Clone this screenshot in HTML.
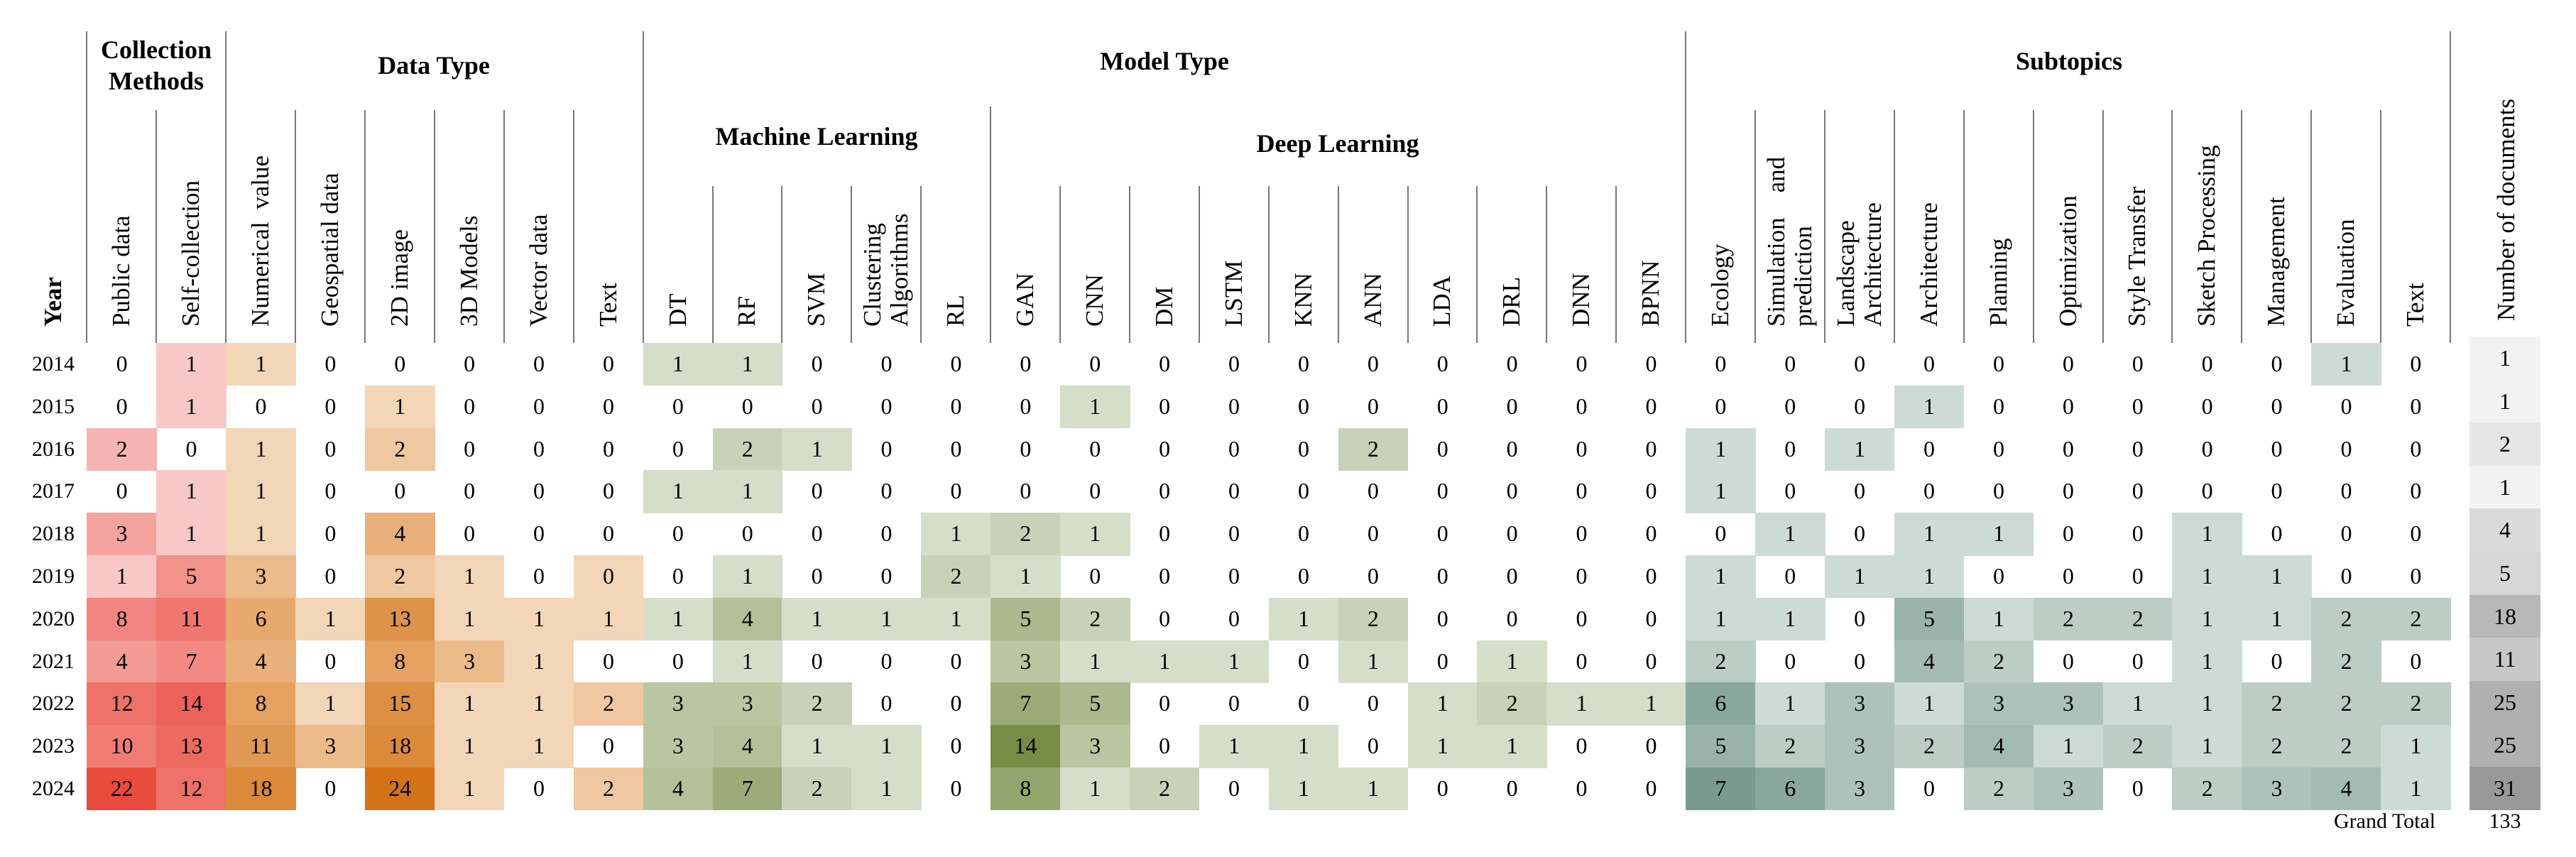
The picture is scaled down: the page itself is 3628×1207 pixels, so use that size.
<!DOCTYPE html>
<html><head><meta charset="utf-8"><style>
html,body{margin:0;padding:0;background:#fff}
#root{position:relative;width:3628px;height:1207px;overflow:hidden;font-family:"Liberation Serif",serif;color:#000}
.ab{position:absolute}
.vl{position:absolute;width:2px;background:#777}
.gh{position:absolute;font-weight:bold;font-size:36px;text-align:center;line-height:44px;white-space:nowrap;transform:translateX(-50%)}
.rl{position:absolute;white-space:nowrap;font-size:35px;line-height:38px;transform-origin:0 0}
.cell{position:absolute;text-align:center;font-size:32px}
</style></head><body>
<div id="root">
  <div class="gh" style="left:220px;top:48px">Collection<br>Methods</div>
  <div class="gh" style="left:611px;top:70px">Data Type</div>
  <div class="gh" style="left:1640px;top:64px">Model Type</div>
  <div class="gh" style="left:1150px;top:170px">Machine Learning</div>
  <div class="gh" style="left:1884px;top:180px">Deep Learning</div>
  <div class="gh" style="left:2914px;top:64px">Subtopics</div>
  <div class="ab" style="left:3287px;top:1140px;font-size:30px;white-space:nowrap">Grand Total</div>
  <div class="ab" style="left:3478px;width:100px;text-align:center;top:1140px;font-size:30px">133</div>
</div>
<script>
const years=['2014','2015','2016','2017','2018','2019','2020','2021','2022','2023','2024'];
const columns=['Public data','Self-collection','Numerical&nbsp; value','Geospatial data','2D image','3D Models','Vector data','Text','DT','RF','SVM','Clustering<br>Algorithms','RL','GAN','CNN','DM','LSTM','KNN','ANN','LDA','DRL','DNN','BPNN','Ecology','Simulation&nbsp;&nbsp;&nbsp; and<br>prediction','Landscape<br>Architecture','Architecture','Planning','Optimization','Style Transfer','Sketch Processing','Management','Evaluation','Text'];
const columnGroups=[0,0,1,1,1,1,1,1,2,2,2,2,2,2,2,2,2,2,2,2,2,2,2,3,3,3,3,3,3,3,3,3,3,3];
const values=[
[0,1,1,0,0,0,0,0, 1,1,0,0,0, 0,0,0,0,0,0,0,0,0,0, 0,0,0,0,0,0,0,0,0,1,0],
[0,1,0,0,1,0,0,0, 0,0,0,0,0, 0,1,0,0,0,0,0,0,0,0, 0,0,0,1,0,0,0,0,0,0,0],
[2,0,1,0,2,0,0,0, 0,2,1,0,0, 0,0,0,0,0,2,0,0,0,0, 1,0,1,0,0,0,0,0,0,0,0],
[0,1,1,0,0,0,0,0, 1,1,0,0,0, 0,0,0,0,0,0,0,0,0,0, 1,0,0,0,0,0,0,0,0,0,0],
[3,1,1,0,4,0,0,0, 0,0,0,0,1, 2,1,0,0,0,0,0,0,0,0, 0,1,0,1,1,0,0,1,0,0,0],
[1,5,3,0,2,1,0,0, 0,1,0,0,2, 1,0,0,0,0,0,0,0,0,0, 1,0,1,1,0,0,0,1,1,0,0],
[8,11,6,1,13,1,1,1, 1,4,1,1,1, 5,2,0,0,1,2,0,0,0,0, 1,1,0,5,1,2,2,1,1,2,2],
[4,7,4,0,8,3,1,0, 0,1,0,0,0, 3,1,1,1,0,1,0,1,0,0, 2,0,0,4,2,0,0,1,0,2,0],
[12,14,8,1,15,1,1,2, 3,3,2,0,0, 7,5,0,0,0,0,1,2,1,1, 6,1,3,1,3,3,1,1,2,2,2],
[10,13,11,3,18,1,1,0, 3,4,1,1,0, 14,3,0,1,1,0,1,1,0,0, 5,2,3,2,4,1,2,1,2,2,1],
[22,12,18,0,24,1,0,2, 4,7,2,1,0, 8,1,2,0,1,1,0,0,0,0, 7,6,3,0,2,3,0,2,3,4,1]];
const documents=[1,1,2,1,4,5,18,11,25,25,31];
const shadedZeros=[[5,7]];
const scales=[
 [[1,'#f8c8c6'],[2,'#f6b5b2'],[3,'#f4a39f'],[5,'#f2938b'],[8,'#f2857f'],[12,'#ee7269'],[14,'#ec6259'],[22,'#e84c3d']],
 [[1,'#f3d5b7'],[2,'#efc7a1'],[3,'#ebbb8a'],[4,'#e9b07c'],[8,'#e4a160'],[13,'#de934a'],[18,'#db893a'],[24,'#d4721a']],
 [[1,'#d5dec8'],[2,'#c8d2b8'],[3,'#bac6a2'],[5,'#abb98e'],[8,'#93a66e'],[14,'#778c45']],
 [[1,'#cddbd6'],[2,'#bccdc6'],[3,'#adc2bb'],[5,'#9ab3aa'],[7,'#7a9a8f']],
 [[1,'#f2f2f2'],[2,'#e6e6e6'],[4,'#dadada'],[11,'#c8c8c8'],[18,'#b8b8b8'],[25,'#b0b0b0'],[31,'#999999']]];
const root=document.getElementById('root');
const X0=122.4,CW=97.9,Y0=483,RH=59.8;
function xPos(c){return X0+c*CW;}
function yPos(r){return Y0+r*RH;}
function hex(h){return [1,3,5].map(i=>parseInt(h.substr(i,2),16));}
function colorFor(g,v){
  const s=scales[g]; if(v<=s[0][0])return s[0][1];
  for(let i=1;i<s.length;i++){ if(v<=s[i][0]){const a=hex(s[i-1][1]),b=hex(s[i][1]);const t=(v-s[i-1][0])/(s[i][0]-s[i-1][0]);
    return 'rgb('+a.map((x,k)=>Math.round(x+(b[k]-x)*t)).join(',')+')';}}
  return s[s.length-1][1];
}
function line(x,y1,y2){const d=document.createElement('div');d.className='vl';d.style.left=(x-1)+'px';d.style.top=y1+'px';d.style.height=(y2-y1)+'px';
  
  
  root.appendChild(d);}
// rotated label helper
function rot(html,cx,bottom,bold,name){
  const d=document.createElement('div');d.className='rl';d.innerHTML=html;
  if(bold){d.style.fontWeight='bold';}
  root.appendChild(d);
  const lines=(html.match(/<br>/g)||[]).length+1;
  d.style.left=cx+'px';d.style.top=bottom+'px';
  d.style.transform='rotate(-90deg) translate(0,'+(-lines*38/2)+'px)';
  
  
}
rot('Year',75,460,true,'year-axis-title');
rot('Number of documents',3530,452,false,'documents-column-title');
columns.forEach((c,i)=>{rot(c,xPos(i)+CW/2,460,false,'column-label');});
// divider lines
const full=[0,2,8,23,34];
for(let i=0;i<=34;i++){
  if(full.includes(i)) line(xPos(i),44,483);
  else if(i===13) line(xPos(i),150,483);
  else if(i>8&&i<23) line(xPos(i),262,483);
  else line(xPos(i),155,483);
}
// cells
years.forEach((y,r)=>{
  const t=document.createElement('div');t.className='cell';t.style.left='40px';t.style.width='70px';t.style.top=yPos(r)+'px';t.style.height=RH+'px';t.style.lineHeight=RH+'px';t.style.fontSize='30px';t.textContent=y;
  
  
  root.appendChild(t);
  values[r].forEach((v,c)=>{
    const d=document.createElement('div');d.className='cell';
    d.style.left=xPos(c)+'px';d.style.width=(CW+0.6)+'px';d.style.top=yPos(r)+'px';d.style.height=(RH+0.6)+'px';d.style.lineHeight=RH+'px';
    const sz=shadedZeros.some(p=>p[0]===r&&p[1]===c);
    if(v>0) d.style.background=colorFor(columnGroups[c],v);
    else if(sz) d.style.background=colorFor(columnGroups[c],1);
    d.textContent=v;
    
    
    root.appendChild(d);
  });
  const dh=60.6,dy=474+r*dh;
  const d=document.createElement('div');d.className='cell';
  d.style.left='3478px';d.style.width='100px';d.style.top=dy+'px';d.style.height=(dh+0.6)+'px';d.style.lineHeight=dh+'px';
  d.style.background=colorFor(4,documents[r]);d.textContent=documents[r];
  
  
  root.appendChild(d);
});
</script>
</body></html>
